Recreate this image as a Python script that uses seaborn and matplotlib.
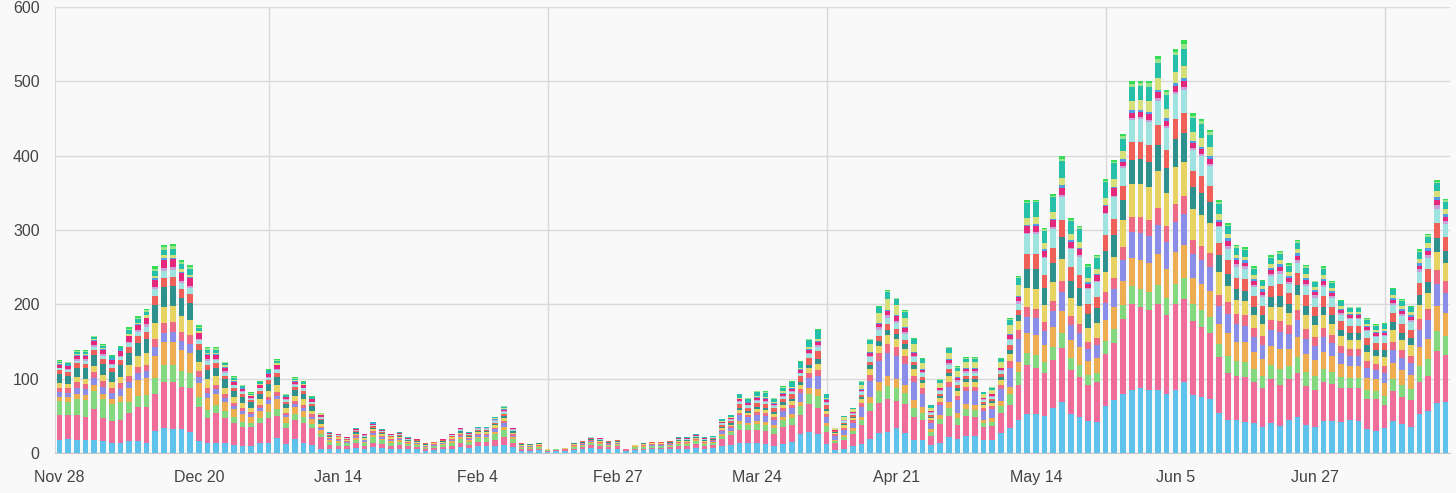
import numpy as np
import matplotlib
matplotlib.use("Agg")
import matplotlib.pyplot as plt
import seaborn as sns

# ---------------- data ----------------
tick_labels = ["Nov 28", "Dec 20", "Jan 14", "Feb 4", "Feb 27",
               "Mar 24", "Apr 21", "May 14", "Jun 5", "Jun 27"]

blue = [18,19,18,17,18,16,13,14,16,16, 13,29,33,32,32,28,16,13,14,13,
        11,9,10,13,14,20,12,19,13,11, 6,6,5,5,7,5,8,7,6,6,
        5,5,3,4,5,6,8,7,9,9, 10,11,8,3,3,4,2,3,3,4,
        5,7,6,5,6,3,4,4,5,5, 5,6,6,7,6,7,10,11,13,13,
        13,12,9,12,15,25,28,26,12,4, 6,10,12,19,27,28,34,27,18,17,
        11,14,22,19,23,23,18,18,27,33, 45,53,53,50,60,69,53,48,43,42,
        63,71,80,85,87,85,85,80,85,95, 78,75,72,54,45,45,42,40,35,41,
        36,45,48,38,35,43,43,42,44,43, 32,30,33,43,39,35,52,56,67,69]
pink = [33,32,33,31,41,31,30,30,38,46, 49,51,63,64,57,59,46,34,40,34,
        29,26,25,27,33,30,22,26,28,23, 15,5,5,4,6,4,6,5,4,5,
        4,3,2,3,3,4,6,4,6,6, 8,10,6,2,2,2,1,1,2,2,
        3,4,3,3,3,2,2,2,2,2, 3,3,3,5,3,4,9,13,18,18,
        18,18,16,23,23,26,38,34,16,9, 11,16,25,37,40,44,36,39,30,27,
        12,25,28,19,27,25,17,18,27,32, 47,65,61,57,65,72,59,54,49,53,
        70,77,100,115,110,108,115,105,115,112, 100,95,90,75,62,58,60,55,52,58,
        56,54,60,52,50,52,50,46,44,45, 40,42,31,40,36,36,44,47,70,63]
green = [19,18,22,23,25,25,23,25,
         14,15,16,21,22,22,21,20,13,11,11,9,8,7,6,7,8,9,6,7,7,5,4,
         4,4,4,5,4,7,5,4,4,3, 3,2,2,3,4,5,4,5,5,7, 10,5,2,2,2,1,1,1,2,2,
         3,3,2,2,1,2,2,2,2,2, 3,3,4,3,3,
         4,4,8,7,8,8,8,9,9,12,14,17,8,
         3,4,4,7,11,16,18,17,15,13,10,5,7,11,9,9,10,6,6,9,14,17,
         17,18,15,18,20,16,16,13,13,18,19,
         19,24,24,24,26,24,27,28,22,22,21,17,
         24,21,21,18,17,20,21,18,21,19,18,18,16,14,13,13,13,12,13,17,16,15,21,23,27,25]
orange = [6,6,7,7,8,8,7,8,
          20,21,23,29,31,32,29,28,19,16,15,13,11,10,8,10,11,13,8,10,9,7,6,
          2,2,1,2,2,3,2,2,2,1, 1,1,1,1,2,2,2,2,2,3, 4,2,1,1,1,0,0,0,1,1,
          1,1,1,1,0,1,1,1,1,1, 1,1,1,1,1,
          2,2,4,3,4,4,4,4,5,6,7,9,4,
          2,3,3,5,9,12,13,13,11,10,8,4,5,8,7,7,7,4,5,7,10,13,
          26,27,23,26,30,24,24,19,20,28,29,
          32,38,39,39,42,39,44,45,35,35,35,27,
          30,26,26,23,22,25,27,23,27,24,22,23,21,18,16,16,16,15,17,21,20,19,26,28,34,31]
lavender = [6,6,8,8,9,9,8,9,
            8,9,9,12,13,13,12,12,8,7,6,5,4,4,3,4,5,5,3,4,4,3,2,
            2,2,1,2,2,3,2,2,2,1, 1,1,1,1,2,2,2,2,2,4, 5,2,1,1,1,0,0,0,1,1,
            1,1,1,1,0,1,1,1,1,1, 1,1,1,1,1,
            4,4,8,7,8,8,8,9,9,12,14,17,8,
            5,7,8,13,21,29,32,31,28,24,18,9,13,20,17,17,18,11,12,16,26,32,
            22,22,19,22,25,20,20,16,17,23,24,
            29,35,36,36,39,36,40,42,33,33,32,25,
            26,23,22,20,19,22,23,20,23,21,19,20,18,15,14,14,14,13,14,18,17,16,23,25,30,27]
pinkred = [6,6,7,7,8,8,7,8,
           8,9,9,12,13,13,12,12,8,7,6,5,4,4,3,4,5,5,3,4,4,3,2,
           1,1,1,2,1,2,2,1,1,1, 1,1,1,1,1,2,1,2,2,2, 3,2,1,1,1,0,0,0,1,1,
           1,1,1,1,0,0,1,1,1,1, 1,1,1,1,1,
           2,2,3,3,4,4,3,4,4,5,6,8,4,
           2,3,3,5,8,10,12,11,10,9,7,3,5,7,6,6,6,4,4,6,9,12,
           13,13,12,13,15,12,12,9,10,14,15,
           17,21,21,21,23,21,24,24,19,19,19,14,
           16,14,14,12,12,13,14,12,14,13,12,12,11,9,9,9,9,8,9,11,10,10,14,15,18,17]
yellow = [6,6,7,7,8,8,7,8,
          14,15,16,21,22,22,21,20,13,11,11,9,8,7,6,7,8,9,6,7,7,5,4,
          2,2,1,2,2,3,2,2,2,1, 1,1,1,1,2,2,2,2,2,3, 4,2,1,1,1,1,1,1,1,1,
          1,1,1,1,0,1,1,1,1,1, 1,1,1,1,1,
          2,2,4,3,4,4,4,4,5,6,7,9,4,
          2,3,3,5,8,10,12,11,10,9,7,3,5,7,6,6,6,4,4,6,9,12,
          26,27,23,26,30,24,24,19,20,28,29,
          36,44,45,45,49,45,50,46,41,41,40,31,
          22,19,19,17,16,18,20,17,19,18,16,17,15,13,12,12,12,11,12,15,14,14,19,21,25,23]
dark_teal = [12,11,13,14,15,15,14,16,
             16,17,19,24,26,26,24,23,15,13,12,11,9,8,7,8,9,11,6,8,8,6,5,
             1,1,1,2,1,2,2,1,1,1, 1,1,1,1,1,2,1,2,2,2, 3,2,1,1,1,0,0,0,1,1,
             1,1,1,1,0,0,1,1,1,1, 1,1,1,1,1,
             2,2,3,3,3,3,3,3,3,4,5,6,3,
             1,2,2,3,5,7,7,7,6,5,4,2,3,5,4,4,4,2,3,4,6,7,
             26,27,23,26,30,24,24,19,20,28,29,
             27,32,33,33,36,33,37,38,30,30,29,23,
             16,14,14,12,12,13,14,12,14,13,12,12,11,9,9,9,9,8,9,11,10,10,14,15,18,17]
red_orange = [5,5,6,6,7,7,6,7,
              8,9,9,12,13,13,12,12,8,7,6,5,4,4,3,4,5,5,3,4,4,3,2,
              1,1,1,1,1,2,1,1,1,1, 1,1,1,1,1,1,1,1,1,2, 3,1,1,0,1,0,0,0,0,1,
              1,1,1,1,0,0,0,1,1,1, 1,1,1,1,1,
              3,3,5,4,5,5,5,5,6,7,9,11,5,
              1,2,2,3,5,7,7,7,6,5,4,2,3,5,4,4,4,2,3,4,6,7,
              20,20,17,20,23,18,18,14,15,21,22,
              19,24,24,24,26,24,27,28,22,22,21,17,
              18,16,16,14,13,15,16,14,16,14,13,14,12,11,10,10,10,9,10,12,12,11,16,17,21,19]
cyan = [3,3,3,4,4,4,3,4,
        6,6,7,9,9,9,9,8,6,5,4,4,3,3,2,3,3,4,2,3,3,2,2,
        1,1,1,1,1,1,1,1,1,1, 1,0,0,1,1,1,1,1,1,2, 2,1,0,0,0,0,0,0,0,0,
        1,1,0,0,0,0,0,0,0,0, 1,1,1,1,1,
        2,2,3,3,3,3,3,3,3,4,5,6,3,
        1,2,2,4,6,8,9,8,8,6,5,3,4,6,5,5,5,3,3,4,7,9,
        26,27,23,26,30,24,24,19,20,28,29,
        24,30,30,30,33,30,34,30,27,27,27,21,
        16,14,14,12,12,13,14,12,14,13,12,12,11,9,9,9,9,8,9,11,10,10,14,15,18,17]
lilac = [1,1,2,2,2,2,2,2,
         2,2,3,3,4,4,3,3,2,2,2,2,1,1,1,1,1,2,1,1,1,1,1,
         1,0,0,1,1,1,1,0,1,0, 0,0,0,0,0,1,1,1,1,1, 1,1,0,0,0,0,0,0,0,0,
         0,0,0,0,0,0,0,0,0,0, 0,0,0,0,0,
         1,1,1,1,1,1,1,1,1,1,2,2,1,
         0,1,1,1,2,3,3,3,3,2,2,1,1,2,2,2,2,1,1,1,2,3,
         2,2,2,2,3,2,2,2,2,2,2,
         3,3,3,3,3,3,3,4,3,3,3,2,
         4,4,3,3,3,3,4,3,4,3,3,3,3,2,2,2,2,2,2,3,3,3,4,4,5,4]
magenta = [4,4,5,5,6,6,5,6,
           7,7,8,10,11,11,10,10,7,6,5,5,4,3,3,3,4,5,3,3,3,3,2,
           1,1,1,1,1,1,1,1,1,1, 1,0,0,1,1,1,1,1,1,1, 2,1,0,0,0,0,0,0,0,0,
           1,1,0,0,0,0,0,0,0,0, 1,1,1,1,1,
           1,1,2,2,3,3,2,3,3,4,4,5,3,
           1,1,1,2,4,5,6,6,5,4,3,2,2,4,3,3,3,2,2,3,5,6,
           9,9,8,9,10,8,8,6,7,9,10,
           6,7,7,8,8,7,8,9,7,7,7,5,
           6,5,5,5,4,5,5,5,5,5,4,5,4,4,3,3,3,3,3,4,4,4,5,6,7,6]
blue2 = [1,1,1,1,1,1,1,1,
         1,1,1,2,2,2,2,2,1,1,1,1,1,1,0,1,1,1,0,1,1,0,0,
         0,0,0,0,0,1,0,0,0,0, 0,0,0,0,0,0,0,0,0,1, 1,0,0,0,0,0,0,0,0,0,
         0,0,0,0,0,0,0,0,0,0, 0,0,0,0,0,
         0,0,1,1,1,1,1,1,1,1,1,1,1,
         0,0,0,1,1,1,1,1,1,1,1,0,1,1,1,1,1,0,1,1,1,1,
         2,2,2,2,3,2,2,2,2,2,2,
         3,3,3,3,4,3,4,4,3,3,3,2,
         4,3,3,3,3,3,4,3,4,3,3,3,3,2,2,2,2,2,2,3,3,3,4,4,5,4]
yellow_green = [1,1,1,1,1,1,1,1,
                2,2,3,3,4,4,3,3,2,2,2,2,1,1,1,1,1,2,1,1,1,1,1,
                0,0,0,0,0,1,0,0,0,0, 0,0,0,0,0,0,0,0,0,1, 1,0,0,0,0,0,0,0,0,0,
                0,0,0,0,0,0,0,0,0,0, 0,0,0,0,0,
                1,1,1,1,2,2,1,2,2,2,3,3,2,
                2,3,4,6,10,13,15,14,13,11,8,4,6,9,8,8,8,5,5,7,12,15,
                9,9,8,9,10,8,8,6,7,9,10,
                11,13,13,14,15,13,15,16,12,12,12,9,
                6,5,5,5,4,5,5,5,5,5,4,5,4,4,3,3,3,3,3,4,4,4,5,6,7,6]
teal = [2,2,3,3,3,3,3,3,
        5,5,5,7,7,7,7,7,4,4,4,3,3,2,2,2,3,3,2,2,2,2,1,
        1,1,1,1,1,1,1,1,1,1, 0,0,0,0,1,1,1,1,1,1, 2,1,0,0,0,0,0,0,0,0,
        0,0,0,0,0,0,0,0,0,0, 1,1,1,1,1,
        3,3,5,4,5,5,5,5,6,7,9,11,5,
        1,2,2,4,6,8,9,8,8,6,5,3,4,6,5,5,5,3,3,4,7,9,
        20,20,17,20,23,18,18,14,15,21,22,
        16,19,19,20,21,19,22,23,18,18,17,13,
        10,9,9,8,7,8,9,8,9,8,7,8,7,6,5,5,5,5,6,7,7,6,9,9,11,10]
light_green = [1,1,1,1,1,1,1,1,
               2,2,2,3,4,4,3,3,2,2,2,1,1,1,1,1,1,1,1,1,1,1,1,
               0,0,0,0,0,0,0,0,0,0, 0,0,0,0,0,0,0,0,0,0, 1,0,0,0,0,0,0,0,0,0,
               0,0,0,0,0,0,0,0,0,0, 0,0,0,0,0,
               0,0,1,1,1,1,1,1,1,1,1,1,1,
               0,0,0,1,1,1,2,1,1,1,1,0,1,1,1,1,1,0,1,1,1,2,
               2,2,2,2,3,2,2,2,2,2,2,
               4,4,4,5,5,4,5,6,4,4,4,3,
               2,2,2,2,1,2,2,2,2,2,1,2,1,1,1,1,1,1,1,1,1,1,2,2,2,2]
bright_green = [1,1,1,1,1,1,1,1,
                2,2,2,3,3,3,3,3,2,1,1,1,1,1,1,1,1,1,1,1,1,1,0,
                0,0,0,0,0,0,0,0,0,0, 0,0,0,0,0,0,0,0,0,0, 0,0,0,0,0,0,0,0,0,0,
                0,0,0,0,0,0,0,0,0,0, 0,0,0,0,0,
                0,0,0,0,1,1,0,1,1,1,1,1,0,
                0,0,0,0,1,1,1,1,1,1,1,0,1,1,1,1,1,0,0,1,1,1,
                2,2,2,2,3,2,2,2,2,2,2,
                3,3,3,3,4,3,4,5,3,3,3,2,
                2,2,2,2,1,2,2,2,2,2,1,2,1,1,1,1,1,1,1,1,1,1,2,2,2,2]

# ---------------- styles ----------------
layers = [blue, pink, green, orange, lavender, pinkred, yellow, dark_teal,
          red_orange, cyan, lilac, magenta, blue2, yellow_green, teal,
          light_green, bright_green]
colors = ["#5ec2ec", "#f06c9b", "#84d97e", "#efad52", "#8a8ee8", "#ee6b86",
          "#e6d362", "#2f918d", "#ef6158", "#9fe3e0", "#c9a0d8", "#e6287d",
          "#4f9ce8", "#d6e07a", "#26bfa9", "#9be48b", "#35dc56"]

lens = [len(l) for l in layers]
if len(set(lens)) != 1:
    raise SystemExit("length mismatch: %s" % lens)
n = lens[0]

sns.set_style("white")
plt.rcParams["font.family"] = ["Liberation Sans", "DejaVu Sans"]

bg = "#f9f9f9"
grid_c = "#d9d9d9"
fig = plt.figure(figsize=(14.56, 4.93), dpi=100, facecolor=bg)
ax = fig.add_axes([55 / 1456, 40 / 493, 1395 / 1456, 446 / 493])
ax.set_facecolor(bg)

idx = list(range(n))
cum = np.cumsum(np.array(layers, dtype=float), axis=0)
for k in range(len(layers) - 1, -1, -1):
    sns.barplot(x=idx, y=cum[k], color=colors[k], saturation=1,
                width=0.65, errorbar=None, ax=ax, linewidth=0, zorder=3)

ax.set_xlim(-0.5, n - 0.5)
ax.set_ylim(0, 600)
ax.set_yticks(range(0, 601, 100))
ax.set_xticks(range(0, 16 * len(tick_labels), 16))
ax.set_xticklabels(tick_labels)
ax.set_xticks([24, 56, 88, 120, 152], minor=True)
ax.set_xlabel("")
ax.set_ylabel("")

ax.grid(axis="y", color=grid_c, lw=1, zorder=0)
ax.grid(axis="x", which="minor", color=grid_c, lw=1, zorder=0)
ax.grid(axis="x", which="major", visible=False)
ax.set_axisbelow(True)

ax.tick_params(axis="x", which="major", length=0, pad=12, labelsize=11.5,
               labelcolor="#444444")
ax.tick_params(axis="x", which="minor", length=8, width=1, color=grid_c)
ax.tick_params(axis="y", length=8, width=1, color=grid_c, pad=3,
               labelsize=11.5, labelcolor="#444444")

for s in ("top", "right"):
    ax.spines[s].set_visible(False)
ax.spines["left"].set_color(grid_c)
ax.spines["bottom"].set_color("#c8c8c8")

fig.savefig("out.png", dpi=100, facecolor=bg)
